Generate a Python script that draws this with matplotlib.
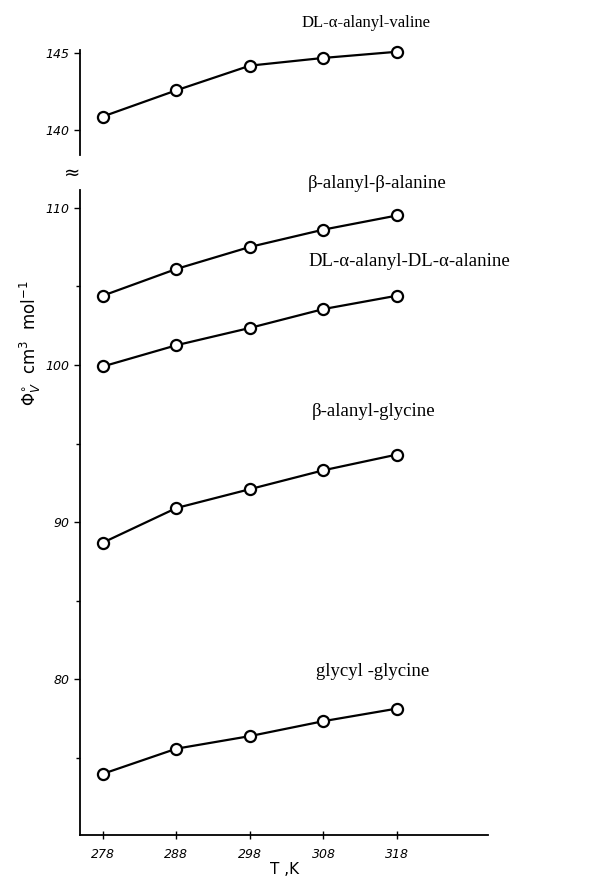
import matplotlib
matplotlib.use('Agg')
import matplotlib.pyplot as plt

# temperatures (K)
temps = [278, 288, 298, 308, 318]

# apparent molar volumes, cm3 mol-1
ala_val = [140.9, 142.6, 144.2, 144.7, 145.1]
bala_bala = [104.4, 106.1, 107.5, 108.6, 109.5]
ala_ala = [99.9, 101.25, 102.35, 103.55, 104.4]
bala_gly = [88.7, 90.9, 92.1, 93.3, 94.3]
gly_gly = [74.0, 75.6, 76.4, 77.35, 78.15]

xticks = [278, 288, 298, 308, 318]
top_yticks = [140, 145]
bottom_yticks = [80, 90, 100, 110]
bottom_minor = [75, 85, 95, 105]

plt.rcParams['font.family'] = 'DejaVu Sans'

fig = plt.figure(figsize=(6.02, 8.81), dpi=100)
ax_top = fig.add_axes([0.133, 0.824, 0.678, 0.119])
ax = fig.add_axes([0.133, 0.052, 0.678, 0.732])

line_kw = dict(color='black', lw=1.6, marker='o', markersize=8,
               markerfacecolor='white', markeredgecolor='black',
               markeredgewidth=1.6, clip_on=False)

# top panel (broken axis)
ax_top.plot(temps, ala_val, **line_kw)
ax_top.set_xlim(274.9, 330.4)
ax_top.set_ylim(138.4, 145.2)
ax_top.set_yticks(top_yticks)
for s in ['top', 'right', 'bottom']:
    ax_top.spines[s].set_visible(False)
ax_top.spines['left'].set_linewidth(1.3)
ax_top.set_xticks([])
ax_top.tick_params(axis='y', direction='out', length=4, width=1, labelsize=9)
for lab in ax_top.get_yticklabels():
    lab.set_style('italic')

# main panel
for ys in [bala_bala, ala_ala, bala_gly, gly_gly]:
    ax.plot(temps, ys, **line_kw)
ax.set_xlim(274.9, 330.4)
ax.set_ylim(70.1, 111.1)
ax.set_yticks(bottom_yticks)
ax.set_yticks(bottom_minor, minor=True)
ax.set_xticks(xticks)
for s in ['top', 'right']:
    ax.spines[s].set_visible(False)
ax.spines['left'].set_linewidth(1.3)
ax.spines['bottom'].set_linewidth(1.3)
ax.tick_params(axis='y', which='major', direction='out', length=4, width=1, labelsize=9)
ax.tick_params(axis='y', which='minor', direction='out', length=3, width=1)
ax.tick_params(axis='x', direction='inout', length=6, width=1, labelsize=9, pad=6)
for lab in ax.get_yticklabels() + ax.get_xticklabels():
    lab.set_style('italic')
ax.set_xlabel('T ,K', fontsize=11, labelpad=1)

fig.text(0.05, 0.61, r'$\Phi^{\circ}_{V}$  cm$^{3}$  mol$^{-1}$', rotation=90,
         ha='center', va='center', fontsize=12)
fig.text(72 / 602, 1 - 173 / 881, '≈', ha='center', va='center', fontsize=14)

serif = 'Liberation Serif'
labels = [
    ('DL-α-alanyl-valine', 302, 23, 12),
    ('β-alanyl-β-alanine', 308, 183, 13.5),
    ('DL-α-alanyl-DL-α-alanine', 308, 262, 13.5),
    ('β-alanyl-glycine', 312, 412, 13.5),
    ('glycyl -glycine', 316, 672, 13.5),
]
for txt, px, py, fs in labels:
    fig.text(px / 602, 1 - py / 881, txt, ha='left', va='center',
             fontsize=fs, family=serif)

fig.savefig('out.png', dpi=100)
